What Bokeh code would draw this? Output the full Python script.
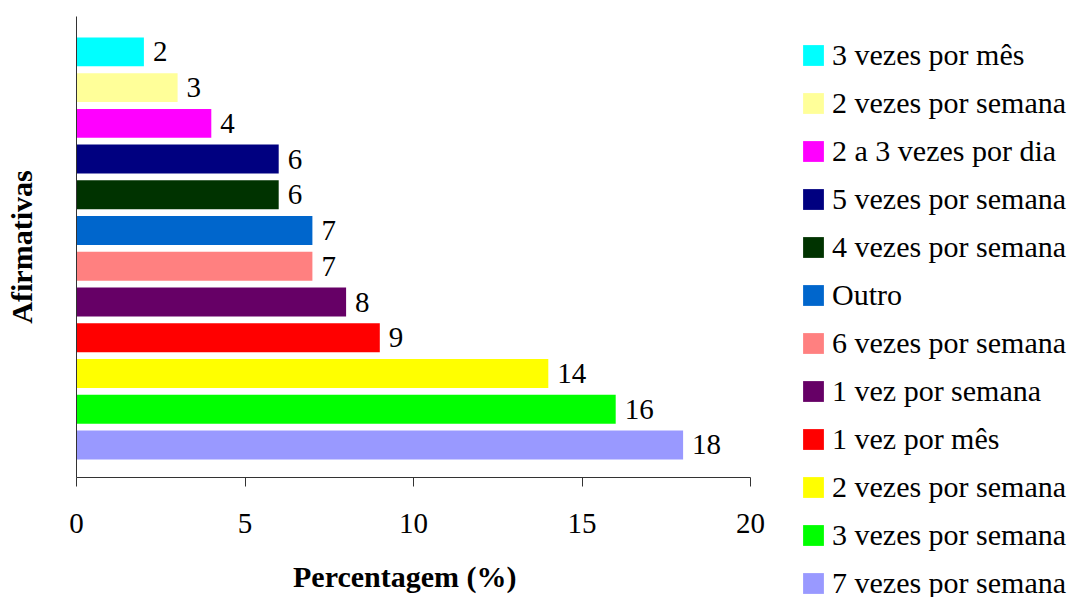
from bokeh.plotting import figure
from bokeh.models import ColumnDataSource, Legend, LegendItem, FixedTicker, Range1d
from bokeh.embed import file_html
from bokeh.resources import INLINE

# Categories listed from the top bar down to the bottom bar
categories = [
    "3 vezes por mês",
    "2 vezes por semana",
    "2 a 3 vezes por dia",
    "5 vezes por semana",
    "4 vezes por semana",
    "Outro",
    "6 vezes por semana",
    "1 vez por semana",
    "1 vez por mês",
    "2 vezes por semana",
    "3 vezes por semana",
    "7 vezes por semana",
]
percentages = [2, 3, 4, 6, 6, 7, 7, 8, 9, 14, 16, 18]
colors = [
    "#00FFFF", "#FFFF99", "#FF00FF", "#000080", "#003300", "#0066CC",
    "#FF8080", "#660066", "#FF0000", "#FFFF00", "#00FF00", "#9999FF",
]
x_ticks = [0, 5, 10, 15, 20]

n = len(categories)
positions = [n - 1 - i for i in range(n)]

source = ColumnDataSource(dict(
    y=positions,
    value=percentages,
    color=colors,
    label=[str(v) for v in percentages],
))

FONT = "Liberation Serif"

# the x axis spans AXIS_PX pixels; the frame runs a little further right,
# up to where the legend starts
AXIS_PX = 674
FRAME_W = 724
x_end = x_ticks[-1] * FRAME_W / AXIS_PX

p = figure(
    frame_width=FRAME_W, frame_height=461,
    output_backend="svg", toolbar_location=None,
    x_range=Range1d(0, x_end), y_range=Range1d(-0.91, n - 1 + 0.99),
    min_border_left=76, min_border_right=0,
    min_border_top=16, min_border_bottom=120,
    outline_line_color=None,
)

bars = p.hbar(y="y", right="value", left=0, height=0.81, fill_color="color",
              line_color=None, source=source)

p.text(x="value", y="y", text="label", source=source, x_offset=9,
       text_align="left", text_baseline="middle",
       text_font=FONT, text_font_size="29px", text_color="black")

p.xgrid.visible = False
p.ygrid.visible = False

xa = p.xaxis[0]
xa.ticker = FixedTicker(ticks=x_ticks)
xa.bounds = (x_ticks[0], x_ticks[-1])
xa.axis_line_color = "#333333"
xa.major_tick_line_color = "#333333"
xa.major_tick_out = 9
xa.major_tick_in = 0
xa.minor_tick_line_color = None
xa.major_label_text_font = FONT
xa.major_label_text_font_size = "29px"
xa.major_label_text_color = "black"
xa.major_label_standoff = 27
# the label is centred on the whole frame; trailing no-break spaces pull the
# visible words back over the centre of the 0-20 axis
xa.axis_label = "Percentagem (%)" + "\u00a0" * 9
xa.axis_label_text_font = FONT
xa.axis_label_text_font_size = "30px"
xa.axis_label_text_font_style = "bold"
xa.axis_label_text_color = "black"
xa.axis_label_standoff = 24

ya = p.yaxis[0]
ya.ticker = FixedTicker(ticks=[])
ya.axis_line_color = "#333333"
ya.major_tick_line_color = None
ya.minor_tick_line_color = None
ya.major_label_text_font_size = "0px"
ya.axis_label = "Afirmativas"
ya.axis_label_text_font = FONT
ya.axis_label_text_font_size = "30px"
ya.axis_label_text_font_style = "bold"
ya.axis_label_text_color = "black"
ya.axis_label_standoff = 39

items = [LegendItem(label=categories[i], renderers=[bars], index=i) for i in range(n)]
legend = Legend(
    items=items,
    location="top_left",
    padding=0, margin=0,
    title=" ",
    title_text_font_size="10px",
    title_standoff=11,
    border_line_color=None,
    background_fill_alpha=0,
    glyph_width=26, glyph_height=26,
    label_height=34, spacing=14,
    label_standoff=6,
    label_text_font=FONT,
    label_text_font_size="30px",
    label_text_color="black",
)
p.add_layout(legend, "right")

open("out.html", "w").write(file_html(p, INLINE))
